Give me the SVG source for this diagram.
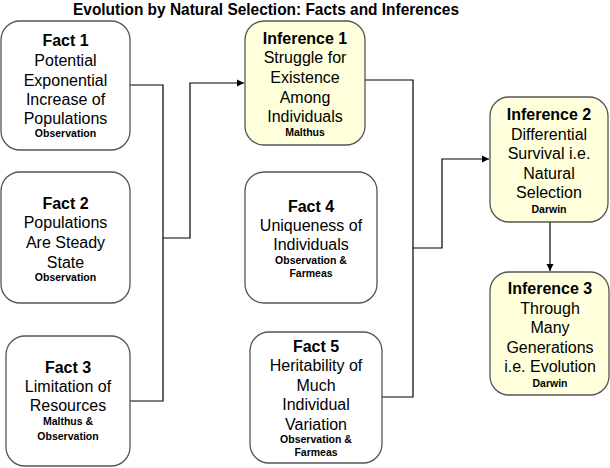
<svg xmlns="http://www.w3.org/2000/svg" width="610" height="468" viewBox="0 0 610 468">
<defs>
<marker id="ah" markerWidth="8" markerHeight="8" refX="7" refY="4" orient="auto" markerUnits="userSpaceOnUse">
<path d="M0,0.5 L7,4 L0,7.5 Z" fill="#000"/>
</marker>
</defs>
<style>
.box{fill:#fff;stroke:#555;stroke-width:1.3}
.inf{fill:#ffffdc;stroke:#555;stroke-width:1.3}
text{font-family:"Liberation Sans",Arial,sans-serif;text-anchor:middle;fill:#000}
.t{font-size:16px;font-weight:bold}
.b{font-size:16px}
.s{font-size:10.5px;font-weight:bold}
.title{font-size:17px;font-weight:bold}
.c{fill:none;stroke:#000;stroke-width:1.2}
</style>
<rect width="610" height="468" fill="#fff"/>
<text class="title" x="266" y="15" textLength="386" lengthAdjust="spacingAndGlyphs">Evolution by Natural Selection: Facts and Inferences</text>

<g id="connectors">
<polyline class="c" points="130,85 163,85 163,401 130,401"/>
<polyline class="c" points="163,238 190,238 190,83 244,83" marker-end="url(#ah)"/>
<polyline class="c" points="365,80 413,80 413,397 382,397"/>
<polyline class="c" points="413,248 442,248 442,159 489,159" marker-end="url(#ah)"/>
<line class="c" x1="550" y1="222" x2="550" y2="271" marker-end="url(#ah)"/>
</g>

<g id="fact1">
<rect class="box" x="1" y="21" width="129" height="129" rx="19"/>
<text class="t" x="65.5" y="46">Fact 1</text>
<text class="b" x="65.5" y="66">Potential</text>
<text class="b" x="65.5" y="86">Exponential</text>
<text class="b" x="65.5" y="105">Increase of</text>
<text class="b" x="65.5" y="124">Populations</text>
<text class="s" x="65.5" y="137">Observation</text>
</g>

<g id="fact2">
<rect class="box" x="1" y="172" width="129" height="131" rx="19"/>
<text class="t" x="65.5" y="209">Fact 2</text>
<text class="b" x="65.5" y="228">Populations</text>
<text class="b" x="65.5" y="248">Are Steady</text>
<text class="b" x="65.5" y="268">State</text>
<text class="s" x="65.5" y="281">Observation</text>
</g>

<g id="fact3">
<rect class="box" x="6" y="336" width="124" height="130" rx="19"/>
<text class="t" x="68" y="373">Fact 3</text>
<text class="b" x="68" y="392">Limitation of</text>
<text class="b" x="68" y="411">Resources</text>
<text class="s" x="68" y="425">Malthus &amp;</text>
<text class="s" x="68" y="440">Observation</text>
</g>

<g id="inference1">
<rect class="inf" x="245" y="21" width="120" height="124" rx="19"/>
<text class="t" x="305" y="44">Inference 1</text>
<text class="b" x="305" y="63">Struggle for</text>
<text class="b" x="305" y="83">Existence</text>
<text class="b" x="305" y="103">Among</text>
<text class="b" x="305" y="122">Individuals</text>
<text class="s" x="305" y="136">Malthus</text>
</g>

<g id="fact4">
<rect class="box" x="245" y="172" width="132" height="131" rx="19"/>
<text class="t" x="311" y="212">Fact 4</text>
<text class="b" x="311" y="231">Uniqueness of</text>
<text class="b" x="311" y="250">Individuals</text>
<text class="s" x="311" y="264">Observation &amp;</text>
<text class="s" x="311" y="277">Farmeas</text>
</g>

<g id="fact5">
<rect class="box" x="250" y="332" width="132" height="131" rx="19"/>
<text class="t" x="316" y="352">Fact 5</text>
<text class="b" x="316" y="371">Heritability of</text>
<text class="b" x="316" y="391">Much</text>
<text class="b" x="316" y="410">Individual</text>
<text class="b" x="316" y="430">Variation</text>
<text class="s" x="316" y="443">Observation &amp;</text>
<text class="s" x="316" y="456">Farmeas</text>
</g>

<g id="inference2">
<rect class="inf" x="490" y="97" width="118" height="125" rx="19"/>
<text class="t" x="549" y="120">Inference 2</text>
<text class="b" x="549" y="140">Differential</text>
<text class="b" x="549" y="159">Survival i.e.</text>
<text class="b" x="549" y="179">Natural</text>
<text class="b" x="549" y="198">Selection</text>
<text class="s" x="549" y="213">Darwin</text>
</g>

<g id="inference3">
<rect class="inf" x="490" y="272" width="119" height="123" rx="19"/>
<text class="t" x="550" y="294">Inference 3</text>
<text class="b" x="550" y="314">Through</text>
<text class="b" x="550" y="333">Many</text>
<text class="b" x="550" y="353">Generations</text>
<text class="b" x="550" y="372">i.e. Evolution</text>
<text class="s" x="550" y="387">Darwin</text>
</g>
</svg>
